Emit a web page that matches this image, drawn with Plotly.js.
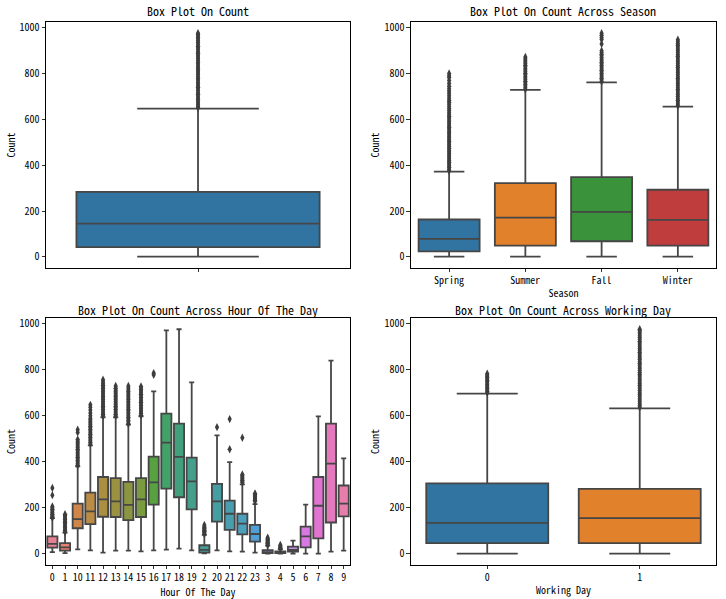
<!DOCTYPE html>
<html><head><meta charset="utf-8">
<script src="https://cdn.plot.ly/plotly-3.0.1.min.js"></script>
<style>html,body{margin:0;padding:0;background:#fff}</style>
</head><body><div id="chart" style="width:726px;height:599px"></div>
<script>
// ---------------- DATA ----------------
// Panel 1: all counts
const allStats = {q1: 42, median: 145, q3: 284, lowerfence: 1, upperfence: 647};
const allOutliers = [651,657,664,672,679,687,694,702,710,717,725,733,741,748,756,764,772,779,787,795,803,811,818,826,834,842,849,857,865,873,881,889,896,904,912,920,928,936,944,951,958,965,971,977];

// Panel 2: season
const seasons = ["Spring","Summer","Fall","Winter"];
const seasonQ1 = [24, 49, 68, 49];
const seasonMedian = [78, 171, 196, 161];
const seasonQ3 = [163, 322, 348, 293];
const seasonLow = [1, 1, 1, 1];
const seasonHigh = [372, 729, 762, 656];
const springOut = [376,383,391,398,405,413,421,428,436,443,451,459,466,474,482,489,497,505,512,520,528,536,543,551,559,566,574,582,590,598,606,614,622,630,639,648,657,666,675,684,694,704,714,724,734,745,757,770,783,791,801];
const summerOut = [732,739,746,753,760,767,774,781,788,795,802,809,816,823,830,837,844,851,858,865,873];
const fallOut = [766,773,780,787,794,801,808,815,822,829,836,843,850,857,864,871,878,885,892,900,930,949,958,968,977];
const winterOut = [660,668,676,684,692,700,708,716,724,732,740,748,756,764,772,780,788,796,804,812,820,828,836,844,852,860,868,876,884,892,900,908,916,924,932,940,948];

// Panel 3: hour of the day (string-sorted categories)
const hours = ["0","1","10","11","12","13","14","15","16","17","18","19","2","20","21","22","23","3","4","5","6","7","8","9"];
const hourQ1 =     [27, 14, 111, 129, 161, 160, 146, 160, 214, 283, 246, 193,  5, 140, 104,  84,  53,  3,  3,  9,  28,  67, 136, 163];
const hourMedian = [43, 28, 151, 184, 237, 228, 213, 237, 311, 484, 422, 315, 17, 228, 174, 131,  86,  7,  6, 17,  76, 209, 392, 218];
const hourQ3 =     [76, 46, 218, 266, 334, 329, 313, 329, 423, 610, 566, 418, 37, 304, 231, 174, 126, 16, 10, 31, 118, 334, 566, 297];
const hourLow =    [ 7,  3,  19,  15,   5,  14,  14,  10,  15,  18,  22,  15,  2,  15,  10,   9,   5,  1,  1,  1,   1,   1,   9,  14];
const hourHigh =   [155, 92, 380, 472, 594, 594, 562, 598, 707, 972, 977, 746, 82, 515, 399, 302, 216, 35, 20, 57, 214, 598, 840, 415];
const hourOutliers = [
  [157,162,167,172,177,182,188,194,200,206,255,286],
  [95,101,107,113,119,125,131,137,143,149,155,161,167,172],
  [385,392,399,406,413,420,427,434,441,448,455,462,469,476,483,490,497,528,540],
  [478,485,492,499,506,513,520,527,534,541,548,555,562,569,576,583,590,600,612,625,637,648],
  [600,607,614,621,628,635,642,649,656,663,670,677,684,691,698,705,712,719,726,733,740,748,757],
  [600,607,614,621,628,635,642,649,656,663,670,677,684,691,698,705,712,720,730],
  [566,573,580,587,594,601,608,615,622,629,636,643,650,657,664,671,678,685,692,699,706,713,721,730],
  [603,610,617,624,631,638,645,652,659,666,673,680,687,694,701,708,715,722,728],
  [779,786],
  [],
  [],
  [],
  [86,90,94,98,102,106,110,114,119,125],
  [551],
  [455,586],
  [310,315,320,325,330,335,340,345,505],
  [228,233,238,243,248,253,258,262],
  [38,42,46,50,54,58,62,66,70],
  [22,25,28,31,34,38],
  [],
  [],
  [],
  [],
  []
];

// Panel 4: working day
const workingDays = ["0","1"];
const workQ1 = [46, 46];
const workMedian = [134, 155];
const workQ3 = [306, 282];
const workLow = [1, 1];
const workHigh = [697, 633];
const work0Out = [701,707,713,719,725,731,737,743,749,755,761,767,772,778,783];
const work1Out = [637,645,653,661,669,677,685,693,701,709,717,725,733,741,749,757,765,773,781,789,797,805,813,821,829,837,845,853,861,869,877,885,893,901,909,917,925,933,941,949,957,965,971,977];

// ---------------- STYLE ----------------
const FONT = "'Noto Sans Mono CJK SC', 'DejaVu Sans Mono', monospace";
const LINE = '#464646';
const tab = ['#3274a1', '#e1812c', '#3a923a', '#c03d3e'];

function huslToRgb(H, S, L) {
  const m = [[3.2406,-1.5372,-0.4986],[-0.9689,1.8758,0.0415],[0.0557,-0.2040,1.0570]];
  const hrad = H*Math.PI/180, sinH = Math.sin(hrad), cosH = Math.cos(hrad);
  const sub1 = Math.pow(L+16,3)/1560896, sub2 = sub1 > 0.008856 ? sub1 : L/903.3;
  let res = Infinity;
  for (const [m1,m2,m3] of m) {
    const top = (0.99915*m1 + 1.05122*m2 + 1.14460*m3)*sub2;
    const rb = 0.86330*m3 - 0.17266*m2, lb = 0.12949*m3 - 0.38848*m1;
    const bottom = (rb*sinH + lb*cosH)*sub2;
    for (const t of [0,1]) {
      const c = L*(top - 1.05122*t)/(bottom + 0.17266*sinH*t);
      if (c > 0 && c < res) res = c;
    }
  }
  const C = res/100*S;
  const U = Math.cos(hrad)*C, V = Math.sin(hrad)*C;
  const t = (L+16)/116, Y = t*t*t > 0.008856 ? t*t*t : (116*t-16)/903.3;
  const varU = U/(13*L) + 0.19784, varV = V/(13*L) + 0.46834;
  const X = -(9*Y*varU)/((varU-4)*varV - varU*varV);
  const Z = (9*Y - 15*varV*Y - varV*X)/(3*varV);
  return m.map(r => {
    const c = r[0]*X + r[1]*Y + r[2]*Z;
    const v = c <= 0.0031308 ? 12.92*c : 1.055*Math.pow(c, 1/2.4) - 0.055;
    return Math.min(1, Math.max(0, v));
  });
}
function desat(rgb, p) {
  const [r,g,b] = rgb, mx = Math.max(r,g,b), mn = Math.min(r,g,b), l = (mx+mn)/2;
  if (mx === mn) return rgb;
  const d = mx-mn; let s = l <= 0.5 ? d/(mx+mn) : d/(2-mx-mn);
  let h; if (mx === r) h = ((g-b)/d)/6; else if (mx === g) h = ((b-r)/d + 2)/6; else h = ((r-g)/d + 4)/6;
  h = ((h % 1) + 1) % 1;
  s *= p;
  const m2 = l <= 0.5 ? l*(1+s) : l + s - l*s, m1 = 2*l - m2;
  const v = hue => { hue = ((hue % 1) + 1) % 1;
    if (hue < 1/6) return m1 + (m2-m1)*hue*6;
    if (hue < 0.5) return m2;
    if (hue < 2/3) return m1 + (m2-m1)*(2/3-hue)*6;
    return m1; };
  return [v(h+1/3), v(h), v(h-1/3)];
}
const toHex = rgb => 'rgb(' + rgb.map(c => Math.round(c*255)).join(',') + ')';
const hourColors = hours.map((_, i) => {
  const hue = ((i/hours.length + 0.01) % 1) * 359;
  return toHex(desat(huslToRgb(hue, 0.9*99, 0.65*99), 0.75));
});

// ---------------- TRACES ----------------
const traces = [];
function addBoxes(cats, q1, med, q3, lo, hi, colors, xa, ya) {
  cats.forEach((c, i) => traces.push({
    type: 'box', x: [c], q1: [q1[i]], median: [med[i]], q3: [q3[i]],
    lowerfence: [lo[i]], upperfence: [hi[i]],
    fillcolor: colors[i], line: {color: LINE, width: 1.8},
    width: 0.8, whiskerwidth: 0.5, boxpoints: false,
    xaxis: xa, yaxis: ya, showlegend: false, hoverinfo: 'skip'
  }));
}
function addOutliers(cats, lists, xa, ya) {
  const xs = [], ys = [];
  cats.forEach((c, i) => lists[i].forEach(v => { xs.push(c); ys.push(v); }));
  traces.push({type: 'scatter', mode: 'markers', x: xs, y: ys,
    marker: {symbol: 'diamond-tall', size: 6, color: '#3d3d3d', line: {width: 0}},
    xaxis: xa, yaxis: ya, showlegend: false, hoverinfo: 'skip'});
}
addBoxes([0], [allStats.q1], [allStats.median], [allStats.q3], [allStats.lowerfence], [allStats.upperfence], [tab[0]], 'x', 'y');
addOutliers([0], [allOutliers], 'x', 'y');
addBoxes(seasons, seasonQ1, seasonMedian, seasonQ3, seasonLow, seasonHigh, tab, 'x2', 'y2');
addOutliers(seasons, [springOut, summerOut, fallOut, winterOut], 'x2', 'y2');
addBoxes(hours, hourQ1, hourMedian, hourQ3, hourLow, hourHigh, hourColors, 'x3', 'y3');
addOutliers(hours, hourOutliers, 'x3', 'y3');
addBoxes(workingDays, workQ1, workMedian, workQ3, workLow, workHigh, tab, 'x4', 'y4');
addOutliers(workingDays, [work0Out, work1Out], 'x4', 'y4');

// ---------------- LAYOUT ----------------
const colL = [0.0634, 0.4821], colR = [0.5661, 0.9862];
const rowT = [0.5526, 0.9633], rowB = [0.0568, 0.4691];
const axBase = {showline: true, mirror: true, linecolor: '#000', linewidth: 1,
  ticks: 'outside', ticklen: 3.5, tickwidth: 0.8, tickcolor: '#000',
  showgrid: false, zeroline: false, tickfont: {size: 10, color: '#000', family: FONT}, fixedrange: true};
const yBase = Object.assign({}, axBase, {range: [-48.8, 1025.8], tickvals: [0,200,400,600,800,1000],
  title: {text: 'Count', font: {size: 10, color: '#000', family: FONT}, standoff: 2}});
const xt = t => ({text: t, font: {size: 10, color: '#000', family: FONT}, standoff: 3});
const catAxis = (cats, dom, title) => Object.assign({}, axBase, {type: 'category', categoryorder: 'array',
  categoryarray: cats, range: [-0.5, cats.length - 0.5], domain: dom, title: xt(title)});

const layout = {
  width: 726, height: 599, autosize: false,
  margin: {l: 0, r: 0, t: 0, b: 0},
  paper_bgcolor: '#fff', plot_bgcolor: '#fff',
  font: {family: FONT, color: '#000'},
  boxmode: 'overlay',
  xaxis: Object.assign({}, axBase, {domain: colL, range: [-0.5, 0.5], tickvals: [0], ticktext: [''], anchor: 'y'}),
  yaxis: Object.assign({}, yBase, {domain: rowT, anchor: 'x'}),
  xaxis2: Object.assign(catAxis(seasons, colR, 'Season'), {anchor: 'y2'}),
  yaxis2: Object.assign({}, yBase, {domain: rowT, anchor: 'x2'}),
  xaxis3: Object.assign(catAxis(hours, colL, 'Hour Of The Day'), {anchor: 'y3'}),
  yaxis3: Object.assign({}, yBase, {domain: rowB, anchor: 'x3'}),
  xaxis4: Object.assign(catAxis(workingDays, colR, 'Working Day'), {anchor: 'y4'}),
  yaxis4: Object.assign({}, yBase, {domain: rowB, anchor: 'x4'}),
  annotations: [
    ['Box Plot On Count', colL, rowT, 1],
    ['Box Plot On Count Across Season', colR, rowT, 1],
    ['Box Plot On Count Across Hour Of The Day', colL, rowB, -2],
    ['Box Plot On Count Across Working Day', colR, rowB, -2]
  ].map(([t, cx, cy, sh]) => ({text: t, xref: 'paper', yref: 'paper', x: (cx[0]+cx[1])/2, y: cy[1],
    xanchor: 'center', yanchor: 'bottom', yshift: sh, showarrow: false,
    font: {size: 12, color: '#000', family: FONT}}))
};
Plotly.newPlot('chart', traces, layout, {staticPlot: true, displayModeBar: false});
</script></body></html>
